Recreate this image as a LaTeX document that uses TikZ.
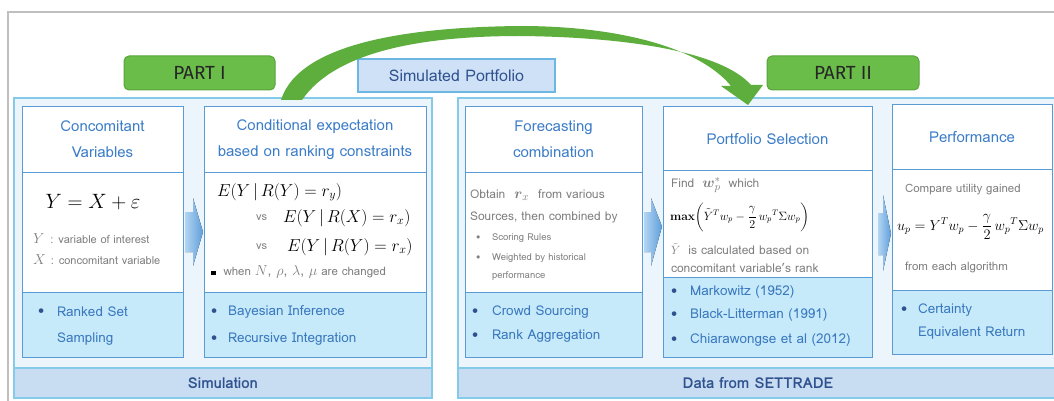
\documentclass[tikz,border=0pt]{standalone}
\usepackage{amsmath}
\usepackage[no-math]{fontspec}
\setmainfont{Loma}
\newfontfamily\partfont{Fira Sans}
\usetikzlibrary{calc}

\definecolor{framegray}{HTML}{BFBFBF}
\definecolor{panelfill}{HTML}{EDF5FC}
\definecolor{panelline}{HTML}{84CBEA}
\definecolor{boxline}{HTML}{5B9BD5}
\definecolor{botfill}{HTML}{C6EAF9}
\definecolor{barfill}{HTML}{C8DCF2}
\definecolor{titleblue}{HTML}{3C7DC8}
\definecolor{itemblue}{HTML}{3A78BF}
\definecolor{bardark}{HTML}{2F528F}
\definecolor{bodygray}{HTML}{7F7F7F}
\definecolor{partgreen}{HTML}{6BBD4A}
\definecolor{partline}{HTML}{58A43A}
\definecolor{arrowgreen}{HTML}{5EAE3E}
\definecolor{spfill}{HTML}{CEE1F7}
\definecolor{spline}{HTML}{6CB6E3}
\definecolor{barrowL}{HTML}{B3D5F2}
\definecolor{barrowR}{HTML}{5E9FDB}

\begin{document}
\begin{tikzpicture}[x=1pt,y=-1pt,
  every node/.style={inner sep=0pt, outer sep=0pt},
  panel/.style={draw=panelline, fill=panelfill, line width=1.3pt, anchor=north west},
  bar/.style={draw=panelline, fill=barfill, line width=1.3pt, anchor=north west,
    text=bardark, font=\fontsize{15}{17}\selectfont\bfseries},
  head/.style={draw=boxline, fill=white, line width=1pt, anchor=north west,
    text=titleblue, align=center, font=\fontsize{15}{26}\selectfont},
  mid/.style={draw=boxline, fill=white, line width=1pt, anchor=north west},
  bot/.style={draw=boxline, fill=botfill, line width=1pt, anchor=north west},
  body/.style={anchor=west, text=bodygray, font=\fontsize{11}{13}\selectfont},
  bodyb/.style={anchor=west, text=bodygray, font=\fontsize{12}{14}\selectfont},
  small/.style={anchor=west, text=bodygray, font=\fontsize{9.5}{11}\selectfont},
  item/.style={anchor=west, text=itemblue, font=\fontsize{13.5}{16}\selectfont},
  dot/.style={anchor=west, text=bardark, font=\fontsize{13.5}{16}\selectfont},
  partbox/.style={draw=partline, fill=partgreen, line width=1pt, rounded corners=5pt,
    anchor=north west, text=black!85, font=\fontsize{19}{22}\partfont},
  blockarrow/.style={left color=barrowL, right color=barrowR, draw=none}
]
\useasboundingbox (0,0) rectangle (1054,401);
\fill[white] (0,0) rectangle (1054,401);

% outer frame
\draw[framegray, line width=1.2pt] (8,410) -- (8,12) -- (1060,12);

% panels
\node[panel, minimum width=418pt, minimum height=300pt] (p1) at (14,98) {};
\node[panel, minimum width=600pt, minimum height=300pt] (p2) at (458,98) {};
\node[bar, minimum width=418pt, minimum height=30pt] (sim) at (14,368) {Simulation};
\node[bar, minimum width=600pt, minimum height=30pt] (set) at (458,368) {Data from SETTRADE};

% labels above the panels
\node[partbox, minimum width=151pt, minimum height=34pt] (part1) at (124,56) {PART I};
\node[partbox, minimum width=152pt, minimum height=34pt] (part2) at (767,56) {PART II};
\node[draw=spline, fill=spfill, line width=1.2pt, anchor=north west,
  minimum width=197pt, minimum height=33pt, text=bardark,
  font=\fontsize{16}{18}\selectfont] (simport) at (358,59) {Simulated Portfolio};

% box 1
\node[head, minimum width=161pt, minimum height=65pt] (b1h) at (22,107) {Concomitant\\Variables};
\node[mid, minimum width=161pt, minimum height=120pt] (b1m) at (22,172) {};
\node[bot, minimum width=161pt, minimum height=65pt] (b1b) at (22,292) {};
% box 2
\node[head, minimum width=222pt, minimum height=65pt] (b2h) at (204,107) {Conditional expectation\\based on ranking constraints};
\node[mid, minimum width=222pt, minimum height=120pt] (b2m) at (204,172) {};
\node[bot, minimum width=222pt, minimum height=65pt] (b2b) at (204,292) {};
% box 3
\node[head, minimum width=177pt, minimum height=65pt] (b3h) at (465,107) {Forecasting\\combination};
\node[mid, minimum width=177pt, minimum height=120pt] (b3m) at (465,172) {};
\node[bot, minimum width=177pt, minimum height=65pt] (b3b) at (465,292) {};
% box 4
\node[head, minimum width=209pt, minimum height=63pt] (b4h) at (663,107) {Portfolio Selection};
\node[mid, minimum width=209pt, minimum height=107pt] (b4m) at (663,170) {};
\node[bot, minimum width=209pt, minimum height=80pt] (b4b) at (663,277) {};
% box 5
\node[head, minimum width=160pt, minimum height=64pt] (b5h) at (892,105) {Performance};
\node[mid, minimum width=160pt, minimum height=121pt] (b5m) at (892,169) {};
\node[bot, minimum width=160pt, minimum height=64pt] (b5b) at (892,290) {};

% block arrows between the boxes
\fill[blockarrow] ($(b1m.east)+(2,-20)$) -- ($(b1m.east)+(10,-20)$) -- ($(b1m.east)+(10,-34)$)
  -- ($(b2m.west)+(-1,0)$) -- ($(b1m.east)+(10,34)$) -- ($(b1m.east)+(10,20)$)
  -- ($(b1m.east)+(2,20)$) -- cycle;
\fill[blockarrow] ($(b3m.east)+(2,-20)$) -- ($(b3m.east)+(9,-20)$) -- ($(b3m.east)+(9,-34)$)
  -- ($(b4m.west)+(-1,3)$) -- ($(b3m.east)+(9,34)$) -- ($(b3m.east)+(9,20)$)
  -- ($(b3m.east)+(2,20)$) -- cycle;
\fill[blockarrow] ($(b4b.north east)+(6,-64)$) -- ($(b4b.north east)+(11,-64)$) -- ($(b4b.north east)+(11,-82)$)
  -- ($(b5m.west)+(-1,4)$) -- ($(b4b.north east)+(11,-6)$) -- ($(b4b.north east)+(11,-22)$)
  -- ($(b4b.north east)+(6,-22)$) -- cycle;

% green curved arrow from Part I to Part II
\coordinate (gstart) at (292,100);
\coordinate (gtip) at (748,105);
\fill[arrowgreen] ($(gstart)+(-11,0)$) .. controls (300,40) and (420,27) .. (520,26)
  .. controls (620,26) and (700,48) .. (731,86) -- (721,86) -- (gtip) -- (763,85) -- (751,85)
  .. controls (720,50) and (620,37) .. (520,36)
  .. controls (420,36) and (335,52) .. ($(gstart)+(10,0)$) -- cycle;

% box 1 contents
\node[font=\fontsize{20}{24}\selectfont] (eq1) at (93,202) {$Y = X + \varepsilon$};
\node[body] (b1l1) at (33,239) {{\fontsize{14}{16}\selectfont$Y$}\hspace{6pt}: variable of interest};
\node[body] (b1l2) at (33,260) {{\fontsize{14}{16}\selectfont$X$}\hspace{5pt}: concomitant variable};
\node[dot] (b1d1) at (38,312) {\textbullet};
\node[item] (b1i1) at (57,312) {Ranked Set};
\node[item] (b1i2) at (57,339) {Sampling};

% box 2 contents
\node[anchor=west, font=\fontsize{16.5}{20}\selectfont] (e1) at (217,192) {$E(Y\,|\,R(Y)=r_{y})$};
\node[body] (vs1) at (256,218) {vs};
\node[anchor=west, font=\fontsize{16.5}{20}\selectfont] (e2) at (283,218) {$E(Y\,|\,R(X)=r_{x})$};
\node[body] (vs2) at (256,247) {vs};
\node[anchor=west, font=\fontsize{16.5}{20}\selectfont] (e3) at (287,247) {$E(Y\,|\,R(Y)=r_{x})$};
\node[body, font=\fontsize{11.5}{13}\selectfont] (b2l) at (211,272) {{\color{black}\rule[0.5pt]{4.5pt}{4.5pt}}\hspace{8pt}when {\fontsize{14}{16}\selectfont$N$, $\rho$, $\lambda$, $\mu$} are changed};
\node[dot] (b2d1) at (211,312) {\textbullet};
\node[item] (b2i1) at (228,312) {Bayesian Inference};
\node[dot] (b2d2) at (211,339) {\textbullet};
\node[item] (b2i2) at (228,339) {Recursive Integration};

% box 3 contents
\node[bodyb] (b3l1) at (470,195) {Obtain\hspace{9pt}{\fontsize{15}{16}\selectfont$\boldsymbol{r}_{x}$}\hspace{9pt}from various};
\node[bodyb] (b3l2) at (470,217) {Sources, then combined by};
\node[small] (b3s1) at (476,238) {\textbullet};
\node[small] (b3t1) at (492,238) {Scoring Rules};
\node[small] (b3s2) at (476,258) {\textbullet};
\node[small] (b3t2) at (492,258) {Weighted by historical};
\node[small] (b3t3) at (492,276) {performance};
\node[dot] (b3d1) at (472,312) {\textbullet};
\node[item] (b3i1) at (492,312) {Crowd Sourcing};
\node[dot] (b3d2) at (472,336) {\textbullet};
\node[item] (b3i2) at (492,336) {Rank Aggregation};

% box 4 contents
\node[bodyb] (b4l1) at (671,185) {Find\hspace{8pt}{\fontsize{15}{16}\selectfont$\boldsymbol{w}_{p}^{*}$}\hspace{8pt}which};
\node[anchor=west, font=\fontsize{12}{14}\selectfont] (b4eq) at (670,217)
  {$\mathbf{max}\biggl(\tilde{Y}^{T} w_{p} - \dfrac{\gamma}{2}\, w_{p}{}^{T}\Sigma w_{p}\biggr)$};
\node[bodyb] (b4l3) at (671,249) {{\fontsize{13}{15}\selectfont$\tilde{Y}$}\hspace{8pt}is calculated based on};
\node[bodyb] (b4l4) at (671,268) {concomitant variable's rank};
\node[dot] (b4d1) at (671,292) {\textbullet};
\node[item] (b4i1) at (690,292) {Markowitz (1952)};
\node[dot] (b4d2) at (671,315) {\textbullet};
\node[item] (b4i2) at (690,315) {Black-Litterman (1991)};
\node[dot] (b4d3) at (671,340) {\textbullet};
\node[item] (b4i3) at (690,340) {Chiarawongse et al (2012)};

% box 5 contents
\node[bodyb, font=\fontsize{11.5}{13}\selectfont] (b5l1) at (905,190) {Compare utility gained};
\node[anchor=west, font=\fontsize{14.5}{16}\selectfont] (b5eq) at (897,227)
  {$u_{p} = Y^{T} w_{p} - \dfrac{\gamma}{2}\, w_{p}{}^{T}\Sigma w_{p}$};
\node[bodyb, font=\fontsize{11.5}{13}\selectfont] (b5l3) at (905,267) {from each algorithm};
\node[dot] (b5d1) at (901,310) {\textbullet};
\node[item] (b5i1) at (918,310) {Certainty};
\node[item] (b5i2) at (918,333) {Equivalent Return};
\end{tikzpicture}
\end{document}
